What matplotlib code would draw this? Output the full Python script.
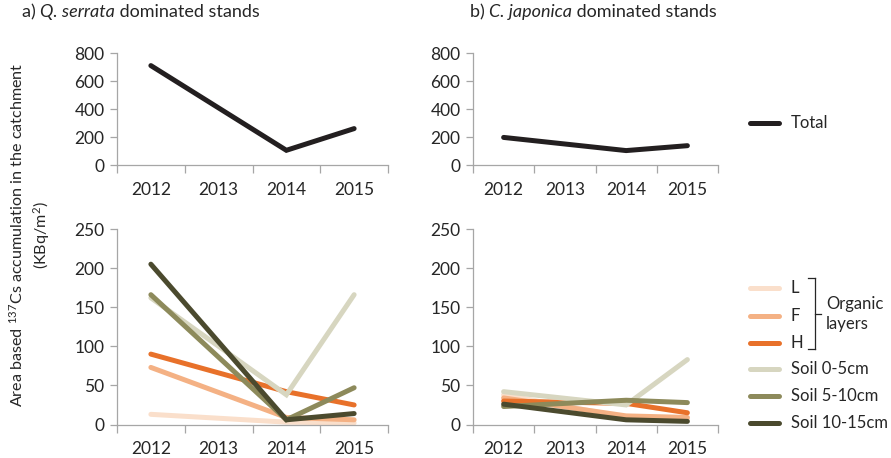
import numpy as np
import matplotlib
matplotlib.use("Agg")
import matplotlib.pyplot as plt
from matplotlib.lines import Line2D

plt.rcParams["font.family"] = ["Lato", "DejaVu Sans"]
plt.rcParams["mathtext.fontset"] = "custom"
plt.rcParams["mathtext.rm"] = "Lato"
plt.rcParams["mathtext.it"] = "Lato:italic"

years = ["2012", "2013", "2014", "2015"]
nan = np.nan

# Total 137Cs stock (KBq/m2); 2013 was not sampled
total_serrata = [710, nan, 105, 260]
total_japonica = [197, nan, 103, 138]

layer_names = ["L", "F", "H", "Soil 0-5cm", "Soil 5-10cm", "Soil 10-15cm"]
layer_colors = ["#FADFCB", "#F4B184", "#E8712A", "#D7D6C0", "#8D8A5B", "#4B4A2E"]

serrata_L = [13, nan, 3, 2]
serrata_F = [73, nan, 9, 6]
serrata_H = [90, nan, 42, 25]
serrata_s0_5 = [162, nan, 38, 166]
serrata_s5_10 = [166, nan, 6, 47]
serrata_s10_15 = [205, nan, 6, 14]

japonica_L = [38, nan, 9, 7]
japonica_F = [34, nan, 11, 9]
japonica_H = [30, nan, 27, 15]
japonica_s0_5 = [42, nan, 25, 83]
japonica_s5_10 = [23, nan, 31, 28]
japonica_s10_15 = [26, nan, 6, 4]

serrata_layers = [serrata_L, serrata_F, serrata_H, serrata_s0_5, serrata_s5_10, serrata_s10_15]
japonica_layers = [japonica_L, japonica_F, japonica_H, japonica_s0_5, japonica_s5_10, japonica_s10_15]

W, H = 891, 458
fig = plt.figure(figsize=(W / 100, H / 100), dpi=100)

spine_col = "#A6A6A6"
text_col = "#262626"
lw = 3.6
fs_tick = 12.5
fs_text = 12


def px_box(x0, x1, ytop, ybot):
    return [x0 / W, 1 - ybot / H, (x1 - x0) / W, (ybot - ytop) / H]


def style_axis(ax, ymax, ystep):
    n = len(years)
    ax.set_xlim(-0.5, n - 0.5)
    ax.set_ylim(0, ymax)
    ax.set_yticks(np.arange(0, ymax + 1, ystep))
    ax.set_xticks(np.arange(n))
    ax.set_xticklabels(years)
    # tick marks sit between the year categories
    ax.set_xticks(np.arange(n + 1) - 0.5, minor=True)
    for s in ["top", "right"]:
        ax.spines[s].set_visible(False)
    for s in ["left", "bottom"]:
        ax.spines[s].set_color(spine_col)
        ax.spines[s].set_linewidth(0.9)
    ax.tick_params(axis="x", which="major", length=0, pad=12, labelsize=fs_tick, colors=text_col)
    ax.tick_params(axis="x", which="minor", length=6, width=0.9, color=spine_col, direction="out")
    ax.tick_params(axis="y", length=5, width=0.9, color=spine_col, labelsize=fs_tick,
                   labelcolor=text_col, pad=4)


def plot_series(ax, vals, color):
    y = np.array(vals, dtype=float)
    x = np.arange(len(y))
    ok = ~np.isnan(y)
    ax.plot(x[ok], y[ok], color=color, lw=lw, solid_capstyle="round", solid_joinstyle="miter")


ax_a_top = fig.add_axes(px_box(117, 388, 53, 165))
ax_b_top = fig.add_axes(px_box(473, 718, 53, 165))
ax_a_bot = fig.add_axes(px_box(117, 388, 229, 424.5))
ax_b_bot = fig.add_axes(px_box(473, 718, 229, 424.5))

for ax in (ax_a_top, ax_b_top):
    style_axis(ax, 800, 200)
for ax in (ax_a_bot, ax_b_bot):
    style_axis(ax, 250, 50)

plot_series(ax_a_top, total_serrata, "#231F20")
plot_series(ax_b_top, total_japonica, "#231F20")
for vals, col in zip(serrata_layers, layer_colors):
    plot_series(ax_a_bot, vals, col)
for vals, col in zip(japonica_layers, layer_colors):
    plot_series(ax_b_bot, vals, col)


# panel titles: plain prefix, italic species name, plain suffix
def panel_title(x_px, prefix, species):
    t0 = fig.text(x_px / W, 1 - 17 / H, prefix, fontsize=13, color=text_col,
                  va="baseline", ha="left")
    t1 = ax_a_top.annotate(species, xy=(1, 0), xycoords=t0, va="bottom", ha="left",
                           fontsize=13, color=text_col, style="italic", annotation_clip=False)
    ax_a_top.annotate(" dominated stands", xy=(1, 0), xycoords=t1, va="bottom", ha="left",
                      fontsize=13, color=text_col, annotation_clip=False)


panel_title(22, "a) ", "Q. serrata")
panel_title(470, "b) ", "C. japonica")

# shared y label
fig.text(17 / W, 1 - 235 / H, "Area based $^{137}$Cs accumulation in the catchment",
         rotation=90, fontsize=11.6, color=text_col, ha="center", va="center")
fig.text(42 / W, 1 - 235 / H, "(KBq/m$^{2}$)", rotation=90, fontsize=11.6, color=text_col,
         ha="center", va="center")


# legends
def legend_row(y_px, color, label):
    fig.add_artist(Line2D([750 / W, 779 / W], [1 - y_px / H] * 2, color=color, lw=lw,
                          solid_capstyle="round", transform=fig.transFigure))
    fig.text(791 / W, 1 - y_px / H, label, fontsize=fs_text, color=text_col,
             va="center", ha="left")


legend_row(123, "#231F20", "Total")
for yp, col, name in zip([288, 316, 343, 369, 396, 423], layer_colors, layer_names):
    legend_row(yp, col, name)

# bracket grouping the organic layers
bx, by0, by1, bym = 815, 278, 349, 314
tf = fig.transFigure
for xs, ys in [([808, bx], [by0, by0]), ([bx, bx], [by0, by1]), ([808, bx], [by1, by1]),
               ([bx, 821], [bym, bym])]:
    fig.add_artist(Line2D([x / W for x in xs], [1 - y / H for y in ys], color=text_col,
                          lw=0.9, transform=tf))
fig.text(826 / W, 1 - 314 / H, "Organic\nlayers", fontsize=fs_text, color=text_col,
         va="center", ha="left", linespacing=1.35)

fig.savefig("out.png", dpi=100)
